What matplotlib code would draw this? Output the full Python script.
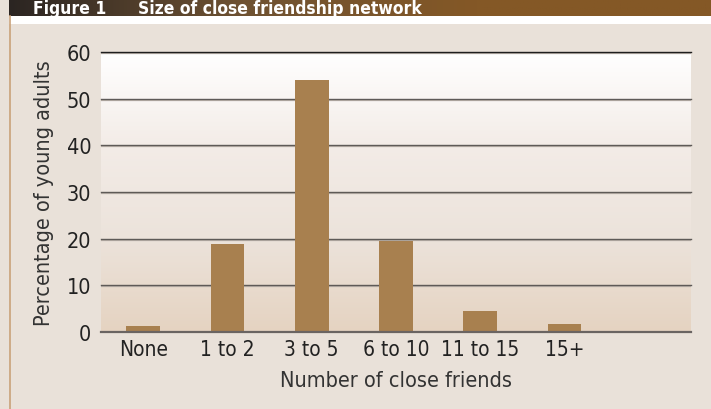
import numpy as np
import matplotlib
matplotlib.use("Agg")
import matplotlib.pyplot as plt
from matplotlib import font_manager
from matplotlib.colors import LinearSegmentedColormap
from matplotlib.patches import Rectangle

# look for a narrow sans face, the reference uses a condensed Helvetica
narrow = [f for f in font_manager.fontManager.ttflist
          if ("Narrow" in f.name or "Condensed" in f.name or f.stretch in ("condensed", "semi-condensed"))
          and "Mono" not in f.name and "Serif" not in f.name]
fam = narrow[0].name if narrow else "DejaVu Sans"
stretch = narrow[0].stretch if narrow else "normal"
plt.rcParams['font.family'] = [fam, 'DejaVu Sans']
plt.rcParams['font.stretch'] = stretch

# data
categories = ["None", "1 to 2", "3 to 5", "6 to 10", "11 to 15", "15+"]
percent = [1.3, 18.8, 54.0, 19.5, 4.5, 1.7]
yticks = [0, 10, 20, 30, 40, 50, 60]

W, H = 711, 410
fig = plt.figure(figsize=(W / 100, H / 100), dpi=100)
fig.patch.set_facecolor("#e9e1d9")

# header bar and white gap
hdr = fig.add_axes([9 / W, 1 - 17 / H, 1 - 9 / W, 17 / H])
hdr.set_axis_off()
grad = np.linspace(0, 1, 256).reshape(1, -1)
hcmap = LinearSegmentedColormap.from_list("h", ["#2b2522", "#6f5232", "#845826", "#845826"])
hdr.imshow(grad, cmap=hcmap, aspect="auto", extent=[0, 1, 0, 1])
hdr.set_xlim(0, 1)
hdr.set_ylim(0, 1)
fig.patches.append(Rectangle((9 / W, 1 - 25 / H), 1 - 9 / W, 8 / H, transform=fig.transFigure,
                             facecolor="white", edgecolor="none"))
fig.text(33 / W, 1 - 14.5 / H, "Figure 1", color="white", fontsize=12.5, fontweight="bold",
         va="baseline", ha="left")
fig.text(138 / W, 1 - 14.5 / H, "Size of close friendship network", color="white", fontsize=12.5,
         fontweight="bold", va="baseline", ha="left")
# left border line
fig.lines.append(plt.Line2D([9.5 / W, 9.5 / W], [0, 1 - 17 / H], transform=fig.transFigure,
                            color="#c9a27a", lw=1.2))

ax = fig.add_axes([101 / W, (H - 333) / H, 590 / W, 280 / H])
x = np.arange(len(categories))
ax.set_xlim(-0.5, len(categories) + 0.5)
ax.set_ylim(0, 60)

# gradient plot background
pcmap = LinearSegmentedColormap.from_list("p", ["#e5d3c1", "#ece3db", "#f3ece7", "#ffffff"])
ax.imshow(np.linspace(0, 1, 256).reshape(-1, 1), cmap=pcmap, aspect="auto",
          extent=[-0.5, len(categories) + 0.5, 0, 60], origin="lower", zorder=0)

for t in yticks[1:]:
    ax.axhline(t - 0.2, color="#bdb4ac", lw=0.9, zorder=1)
    ax.axhline(t, color="#1e1e1e" if t == 60 else "#5e5a57", lw=1.0, zorder=1.1, clip_on=False)

ax.bar(x, percent, width=0.4, color="#a8804f", zorder=2)
ax.axhline(0, color="#6a6462", lw=1.6, zorder=3, clip_on=False)

for s in ax.spines.values():
    s.set_visible(False)
ax.set_xticks(x)
ax.set_xticklabels(categories, fontsize=15, color="#222222")
ax.set_yticks(yticks)
ax.set_yticklabels([str(t) for t in yticks], fontsize=15.5, color="#222222")
ax.tick_params(length=0, pad=5)
ax.tick_params(axis="y", pad=7)
ax.set_xlabel("Number of close friends", fontsize=15.5, color="#333333", labelpad=8)
ax.set_ylabel("Percentage of young adults", fontsize=15.5, color="#333333", labelpad=9)

fig.savefig("out.png", dpi=100, facecolor=fig.get_facecolor())
